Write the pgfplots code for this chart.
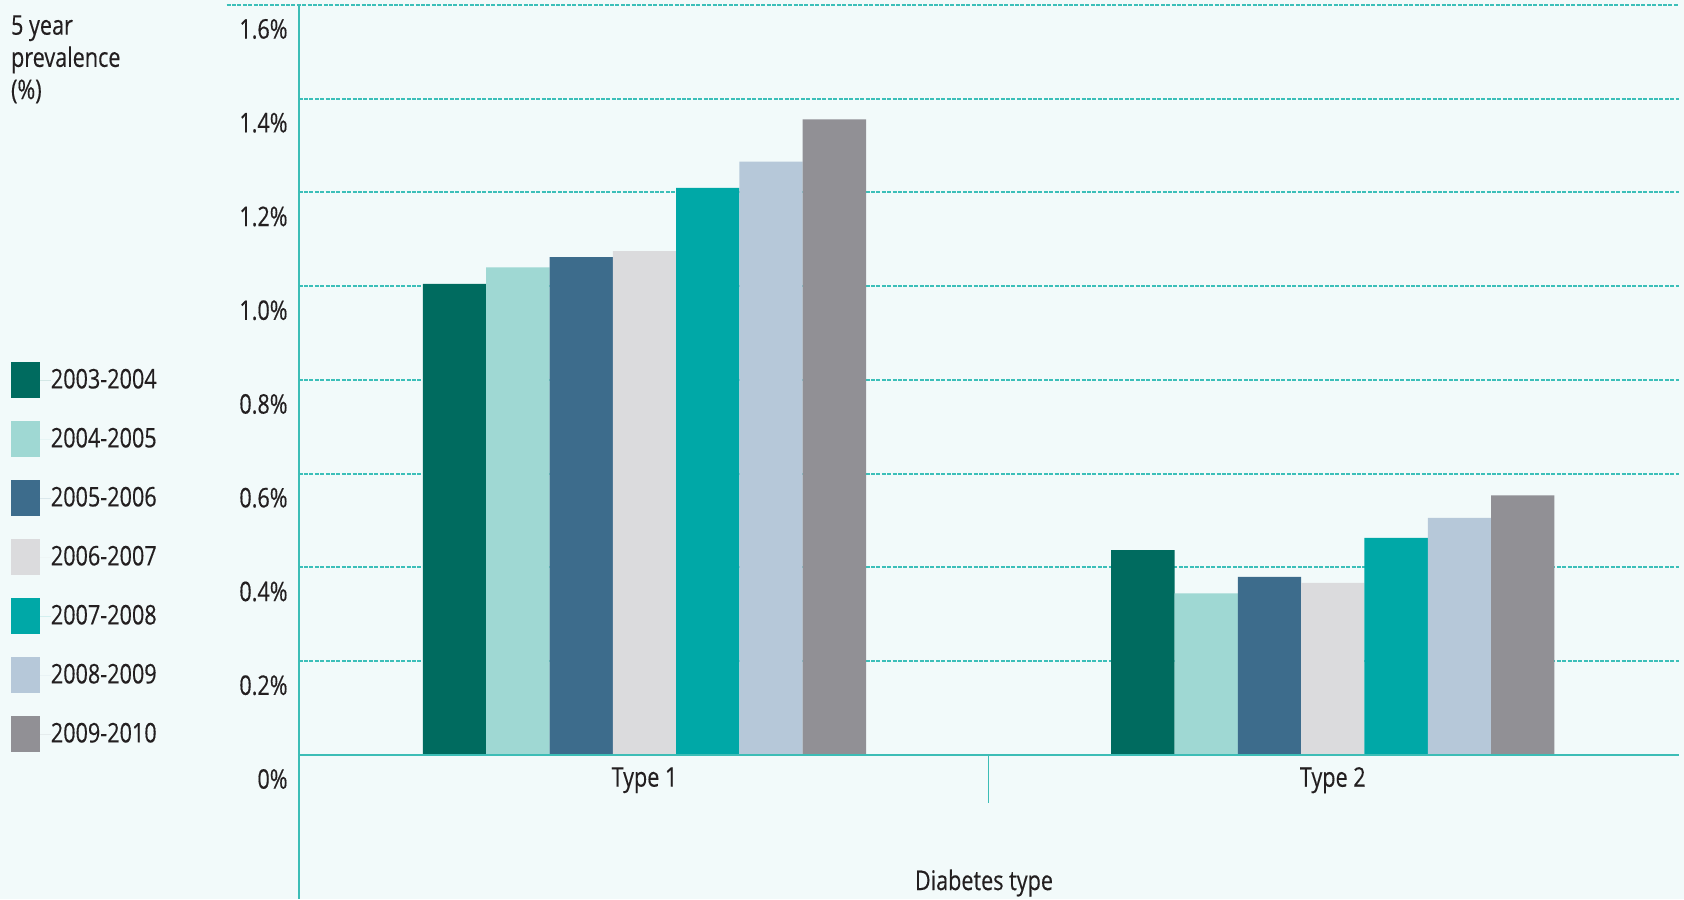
\documentclass[border=0pt]{standalone}
\usepackage{fontspec}
\setmainfont{Open Sans}[FakeStretch=0.8, FakeBold=0.35]
\usepackage{pgfplots}
\pgfplotsset{compat=1.18}
\definecolor{bg}{HTML}{F2FAFA}
\definecolor{gridc}{HTML}{3CBFB9}
\definecolor{axc}{HTML}{3DBDB6}
\definecolor{txt}{HTML}{231F20}
\definecolor{c1}{HTML}{006B5F}
\definecolor{c2}{HTML}{9FD8D3}
\definecolor{c3}{HTML}{3D6C8C}
\definecolor{c4}{HTML}{DBDBDD}
\definecolor{c5}{HTML}{00A8A7}
\definecolor{c6}{HTML}{B6C8D9}
\definecolor{c7}{HTML}{919095}
\newcommand\cf{\fontsize{13.5}{16.1}\selectfont}
\begin{document}
\begin{tikzpicture}[font=\cf, text=txt]
\fill[bg] (0,0) rectangle (842pt,449.5pt);
\begin{axis}[
 at={(149.3pt,72pt)}, anchor=south west,
 scale only axis, width=690.2pt, height=375pt,
 xmin=-0.5025, xmax=1.503, ymin=0, ymax=1.6,
 clip=false,
 ybar=0pt, bar width=31.65pt,
 axis line style={draw=none}, major tick length=0pt,
 xtick={0,1}, xticklabels={Type 1,Type 2},
 ytick={0,0.2,0.4,0.6,0.8,1.0,1.2,1.4,1.6},
 yticklabels={0\%,0.2\%,0.4\%,0.6\%,0.8\%,1.0\%,1.2\%,1.4\%,1.6\%},
 tick label style={font=\cf, text=txt},
 xticklabel style={anchor=center, inner sep=0pt, yshift=-12.6pt},
 yticklabel style={anchor=east, inner sep=0pt, xshift=-5.3pt, yshift=-12pt},
 ymajorgrids, major grid style={gridc, line width=1pt, dash pattern=on 2pt off 0.7pt, shorten <=-36pt},
 xlabel={Diabetes type},
 xlabel style={font=\cf, text=txt, at={(axis description cs:0.4965,0)}, anchor=center, inner sep=0pt, yshift=-64pt},
 legend style={at={(axis description cs:0,1)}, anchor=north west, xshift=-143.95pt, yshift=-178.35pt,
   draw=none, fill=none, inner sep=0pt, font=\cf, text=txt,
   nodes={inner sep=0pt}, row sep=11.5pt},
 legend cell align=left,
 legend image code/.code={\path (0pt,0pt) -- (19.9pt,0pt); \fill[#1] (0pt,-9pt) rectangle (14.5pt,9pt);},
]
\addplot[fill=c1, draw=none] coordinates {(0,1.005) (1,0.437)};
\addplot[fill=c2, draw=none] coordinates {(0,1.040) (1,0.345)};
\addplot[fill=c3, draw=none] coordinates {(0,1.062) (1,0.380)};
\addplot[fill=c4, draw=none] coordinates {(0,1.075) (1,0.367)};
\addplot[fill=c5, draw=none] coordinates {(0,1.210) (1,0.463)};
\addplot[fill=c6, draw=none] coordinates {(0,1.266) (1,0.506)};
\addplot[fill=c7, draw=none] coordinates {(0,1.356) (1,0.554)};
\legend{2003-2004,2004-2005,2005-2006,2006-2007,2007-2008,2008-2009,2009-2010}
\draw[axc, line width=1.1pt] (rel axis cs:0,1) -- ([yshift=-72pt]rel axis cs:0,0);
\draw[axc, line width=1.2pt] (rel axis cs:0,0) -- (rel axis cs:1,0);
\draw[axc, line width=0.7pt] (axis cs:0.5,0) -- ([yshift=-24pt]axis cs:0.5,0);
\end{axis}
\node[anchor=north west, align=left, inner sep=0pt, font=\cf, text=txt] at (5.35pt,442pt) {5 year\\prevalence\\(\%)};
\pgfresetboundingbox
\useasboundingbox (0,0) rectangle (842pt,449.5pt);
\end{tikzpicture}
\end{document}
